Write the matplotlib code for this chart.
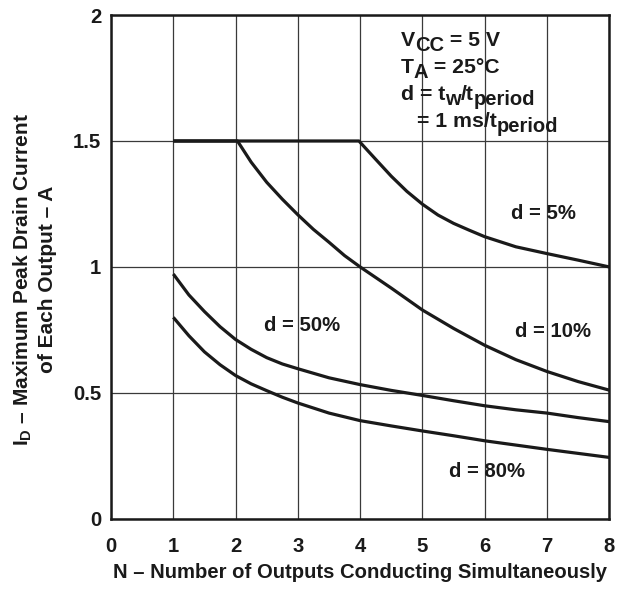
import matplotlib
matplotlib.use('Agg')
import matplotlib.pyplot as plt
import matplotlib.transforms as mtransforms

# ---- data ----
n_5 = [1, 3.98, 4.25, 4.5, 4.75, 5, 5.25, 5.5, 5.75, 6, 6.5, 7, 7.5, 8]
i_5 = [1.5, 1.5, 1.427, 1.36, 1.30, 1.249, 1.206, 1.173, 1.146, 1.12, 1.08, 1.053, 1.027, 1.0]

n_10 = [1, 2.03, 2.25, 2.5, 2.75, 3, 3.25, 3.5, 3.75, 4, 4.5, 5, 5.5, 6, 6.5, 7, 7.5, 8]
i_10 = [1.5, 1.5, 1.416, 1.336, 1.269, 1.207, 1.149, 1.098, 1.045, 1.0, 0.916, 0.829, 0.756, 0.689,
        0.632, 0.585, 0.545, 0.511]

n_50 = [1, 1.25, 1.5, 1.75, 2, 2.25, 2.5, 2.75, 3, 3.5, 4, 4.5, 5, 5.5, 6, 6.5, 7, 7.5, 8]
i_50 = [0.972, 0.889, 0.823, 0.763, 0.712, 0.673, 0.64, 0.615, 0.596, 0.56, 0.533, 0.51, 0.49,
        0.469, 0.449, 0.433, 0.42, 0.402, 0.386]

n_80 = [1, 1.25, 1.5, 1.75, 2, 2.25, 2.5, 2.75, 3, 3.5, 4, 4.5, 5, 5.5, 6, 6.5, 7, 7.5, 8]
i_80 = [0.80, 0.727, 0.663, 0.612, 0.569, 0.536, 0.509, 0.483, 0.46, 0.42, 0.39, 0.369, 0.349,
        0.33, 0.31, 0.293, 0.276, 0.26, 0.244]

x_ticks = [0, 1, 2, 3, 4, 5, 6, 7, 8]
y_ticks = [0, 0.5, 1, 1.5, 2]
y_tick_labels = ['0', '0.5', '1', '1.5', '2']

plt.rcParams['font.family'] = ['Liberation Sans', 'DejaVu Sans']
plt.rcParams['font.weight'] = 'bold'
plt.rcParams['mathtext.fontset'] = 'custom'
plt.rcParams['mathtext.rm'] = 'Liberation Sans:bold'
plt.rcParams['mathtext.it'] = 'Liberation Sans:bold'
plt.rcParams['mathtext.bf'] = 'Liberation Sans:bold'

fig = plt.figure(figsize=(6.29, 5.91), dpi=100)
ax = fig.add_axes([0.1765, 0.122, 0.9687 - 0.1765, 0.9746 - 0.122])

FS = 14.6
col = '#1a1a1a'
for n, i in [(n_5, i_5), (n_10, i_10), (n_50, i_50), (n_80, i_80)]:
    ax.plot(n, i, color=col, lw=2.3, solid_capstyle='butt', solid_joinstyle='round', zorder=3)

ax.set_xlim(0, 8)
ax.set_ylim(0, 2)
ax.set_xticks(x_ticks)
ax.set_yticks(y_ticks)
ax.set_yticklabels(y_tick_labels)
ax.grid(True, color='#3a3a3a', lw=0.9)
ax.tick_params(length=0, labelsize=FS, colors=col)
ax.tick_params(axis='x', pad=13)
ax.tick_params(axis='y', pad=7)
for s in ax.spines.values():
    s.set_linewidth(1.8)
    s.set_color(col)

ax.set_xlabel('N – Number of Outputs Conducting Simultaneously', fontsize=FS,
              fontweight='bold', color=col, labelpad=5)
ax.set_ylabel(r'$I_D$ – Maximum Peak Drain Current' + '\nof Each Output – A',
              fontsize=15, fontweight='bold', color=col, linespacing=1.25)
ax.yaxis.set_label_coords(-0.108, 0.476)

ax.text(6.95, 1.211, 'd = 5%', fontsize=FS, fontweight='bold', ha='center', va='center', color=col)
ax.text(7.09, 0.743, 'd = 10%', fontsize=FS, fontweight='bold', ha='center', va='center', color=col)
ax.text(3.06, 0.768, 'd = 50%', fontsize=FS, fontweight='bold', ha='center', va='center', color=col)
ax.text(6.03, 0.19, 'd = 80%', fontsize=FS, fontweight='bold', ha='center', va='center', color=col)

renderer = fig.canvas.get_renderer()
BFS = 15.3
SUB = BFS * 0.95
DY = -3.6


def rich(x, y, parts):
    xoff = 0.0
    for txt, sub in parts:
        tr = mtransforms.offset_copy(ax.transData, fig=fig, x=xoff, y=(DY if sub else 0),
                                     units='points')
        t = ax.text(x, y, txt, transform=tr, fontsize=(SUB if sub else BFS), fontweight='bold',
                    ha='left', va='baseline', color=col)
        bb = t.get_window_extent(renderer)
        xoff += bb.width * 72.0 / fig.dpi


rich(4.65, 1.877, [('V', False), ('CC', True), (' = 5 V', False)])
rich(4.65, 1.771, [('T', False), ('A', True), (' = 25°C', False)])
rich(4.65, 1.663, [('d = t', False), ('w', True), ('/t', False), ('period', True)])
rich(4.905, 1.555, [('= 1 ms/t', False), ('period', True)])

fig.savefig('out.png', dpi=100)
